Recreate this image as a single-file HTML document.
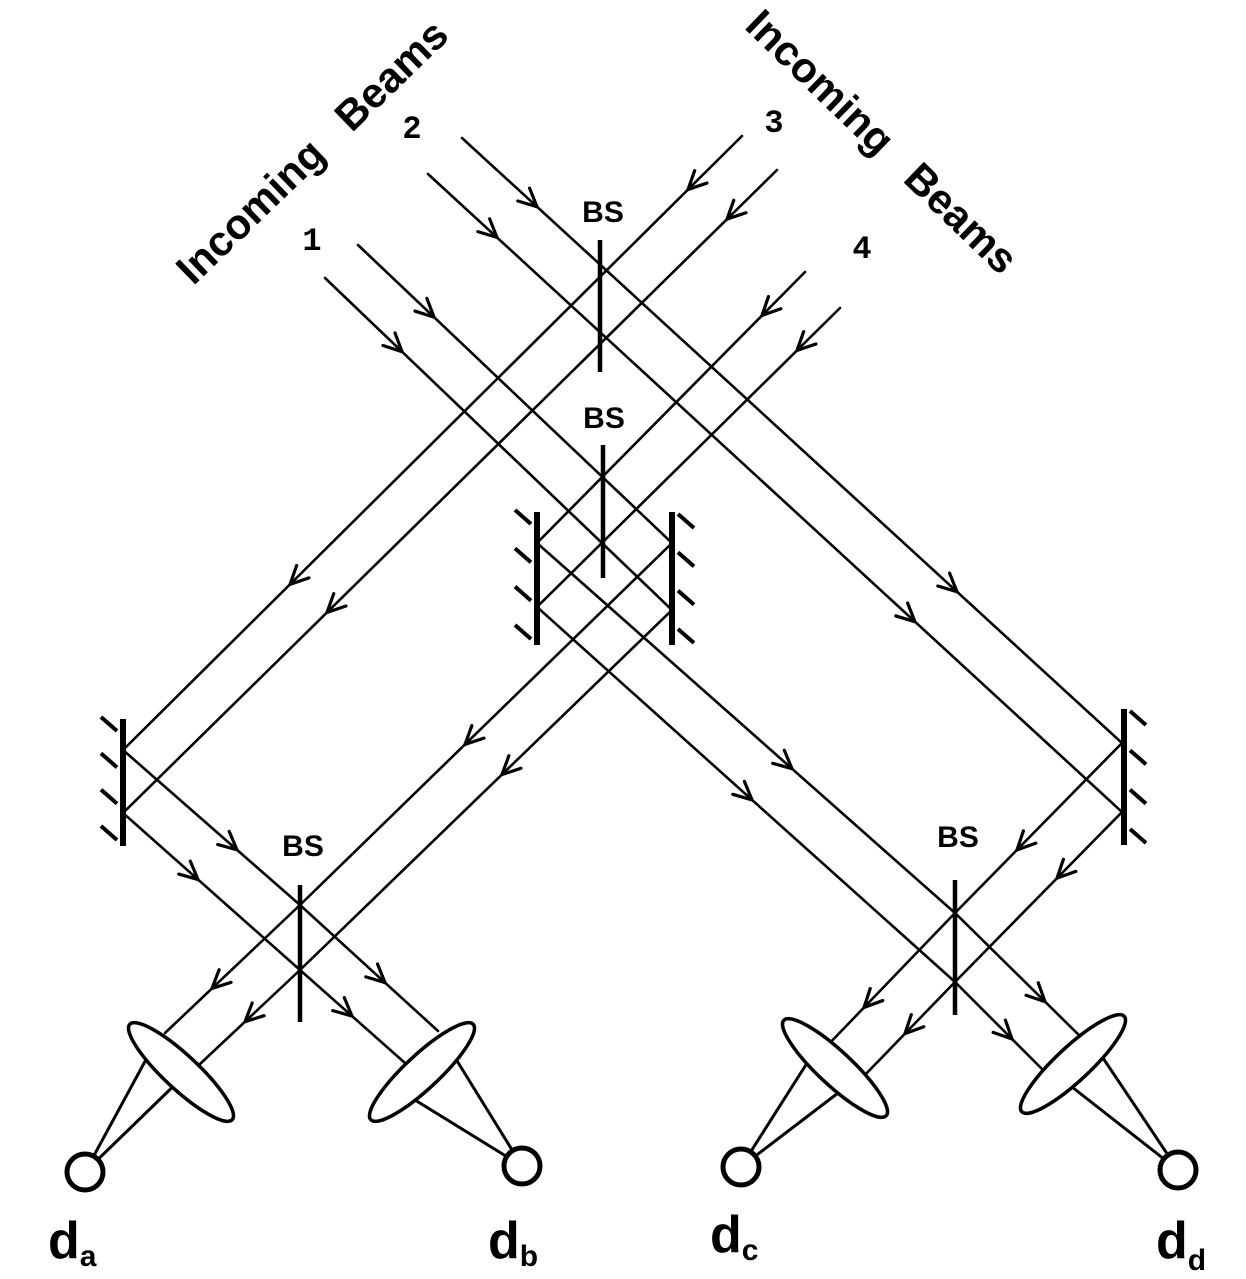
<!DOCTYPE html>
<html><head><meta charset="utf-8"><style>
html,body{margin:0;padding:0;background:#fff;}
svg{display:block;}
text{font-family:"Liberation Sans",sans-serif;font-weight:bold;fill:#000;}
</style></head><body>
<svg id="dia" width="1246" height="1279" viewBox="0 0 1246 1279" xmlns="http://www.w3.org/2000/svg">
<g id="beams" stroke="#000" stroke-width="2.6" fill="none" stroke-linecap="round"></g>
<g id="optics"></g>
<text x="0" y="0" font-size="42" text-anchor="middle" transform="translate(322,162) rotate(-44)" word-spacing="22">Incoming Beams</text>
<text x="0" y="0" font-size="42" text-anchor="middle" transform="translate(872,152) rotate(44)" word-spacing="22">Incoming Beams</text>
<text x="312" y="250" font-size="32" text-anchor="middle" style="font-family:'Liberation Mono',monospace">1</text>
<text x="412" y="138" font-size="32" text-anchor="middle" style="font-family:'Liberation Mono',monospace">2</text>
<text x="774" y="132" font-size="32" text-anchor="middle" style="font-family:'Liberation Mono',monospace">3</text>
<text x="862" y="258" font-size="32" text-anchor="middle" style="font-family:'Liberation Mono',monospace">4</text>
<text x="603" y="222" font-size="30" text-anchor="middle">BS</text>
<text x="604" y="428" font-size="30" text-anchor="middle">BS</text>
<text x="303" y="856" font-size="30" text-anchor="middle">BS</text>
<text x="958" y="847" font-size="30" text-anchor="middle">BS</text>
<text x="48" y="1258" font-size="52">d<tspan font-size="30" dy="8">a</tspan></text>
<text x="488" y="1258" font-size="52">d<tspan font-size="30" dy="8">b</tspan></text>
<text x="710" y="1252" font-size="52">d<tspan font-size="30" dy="8">c</tspan></text>
<text x="1156" y="1258" font-size="52">d<tspan font-size="30" dy="12">d</tspan></text>
</svg>
<script>
// beam paths (polylines)
const beamPaths = [
  [[325,278],[672,610],[300,970],[200,1064]],
  [[358,245],[672,543],[300,905],[165,1033]],
  [[428,174],[1122,812],[955,982],[862,1078]],
  [[462,138],[1122,743],[955,913],[825,1048]],
  [[742,136],[123,750],[300,905],[438,1031]],
  [[777,170],[123,813],[300,970],[405,1063]],
  [[805,272],[537,543],[955,913],[1088,1044]],
  [[840,308],[537,607],[955,982],[1050,1077]]
];
// arrows: [pathIndex, segmentIndex, x]
const arrowMarks = [
  [0,0,402],[1,0,434],[2,0,497],[3,0,537],[4,0,688],[5,0,727],[6,0,762],[7,0,797],
  [1,1,465],[0,1,502],[6,1,792],[7,1,752],[4,0,290],[5,0,327],[3,0,957],[2,0,915],
  [4,1,237],[5,1,198],[3,1,1017],[2,1,1057],
  [1,2,212],[0,2,245],[4,2,385],[5,2,352],[3,2,864],[2,2,905],[6,2,1045],[7,2,1012]
];
const splitters = [[600,240,372],[603,445,578],[300,885,1022],[955,880,1015]];
const mirrors = [[123,719,846,-1],[1124,709,845,1],[537,512,645,-1],[672,512,645,1]];
const lenses = [[181,1072,43,"a"],[422,1072,-43,"b"],[835,1068,43,"c"],[1073,1064,-43,"d"]];
const detectors = [[85,1172],[522,1166],[741,1167],[1178,1170]];
const focusLines = [
  [[155,1043],[188,1072]],[[446,1043],[415,1100]],[[809,1060],[842,1090]],[[1103,1058],[1072,1087]]
];
const NS="http://www.w3.org/2000/svg";
const bg=document.getElementById('beams');
const og=document.getElementById('optics');
function mk(tag,attrs,parent){const e=document.createElementNS(NS,tag);for(const k in attrs)e.setAttribute(k,attrs[k]);parent.appendChild(e);return e;}
beamPaths.forEach((p,i)=>{
  const pl=mk('polyline',{points:p.map(q=>q.join(',')).join(' ')},bg);
  
  
});
arrowMarks.forEach(([pi,si,x])=>{
  const a=beamPaths[pi][si],b=beamPaths[pi][si+1];
  const t=(x-a[0])/(b[0]-a[0]);const y=a[1]+t*(b[1]-a[1]);
  const dx=b[0]-a[0],dy=b[1]-a[1],L=Math.hypot(dx,dy),ux=dx/L,uy=dy/L;
  const s=20,ang=0.45;
  const p1=[x-s*(ux*Math.cos(ang)-uy*Math.sin(ang)),y-s*(uy*Math.cos(ang)+ux*Math.sin(ang))];
  const p2=[x-s*(ux*Math.cos(ang)+uy*Math.sin(ang)),y-s*(uy*Math.cos(ang)-ux*Math.sin(ang))];
  const ar=mk('polyline',{points:`${p1} ${x},${y} ${p2}`,'stroke-width':3.2},bg);
  
  
});
splitters.forEach(([x,y1,y2])=>{
  const l=mk('line',{x1:x,y1:y1,x2:x,y2:y2,stroke:'#000','stroke-width':4.5},og);
  
  
});
mirrors.forEach(([x,y1,y2,side])=>{
  const g=mk('g',{},og);
  
  
  mk('line',{x1:x,y1:y1,x2:x,y2:y2,stroke:'#000','stroke-width':6},g);
  const n=4;
  for(let k=0;k<n;k++){
    const yy=y1+12+k*(y2-y1-18)/(n-1);
    if(side<0){
      mk('line',{x1:x-22,y1:yy-14,x2:x-6,y2:yy,stroke:'#000','stroke-width':4},g);
    } else {
      mk('line',{x1:x+6,y1:yy-10,x2:x+22,y2:yy+4,stroke:'#000','stroke-width':4},g);
    }
  }
});
focusLines.forEach((fl,i)=>{
  const d=detectors[i];
  fl.forEach(p=>{
    const l=mk('line',{x1:p[0],y1:p[1],x2:d[0],y2:d[1],stroke:'#000','stroke-width':3},og);
    
    
  });
});
lenses.forEach(([cx,cy,rot,id])=>{
  const e=mk('ellipse',{cx:cx,cy:cy,rx:70,ry:17,transform:`rotate(${rot} ${cx} ${cy})`,fill:'#fff',stroke:'#000','stroke-width':3.5},og);
  
  
});
detectors.forEach(([x,y],i)=>{
  const c=mk('circle',{cx:x,cy:y,r:18,fill:'#fff',stroke:'#000','stroke-width':5},og);
  
  
});
</script>
</body></html>
